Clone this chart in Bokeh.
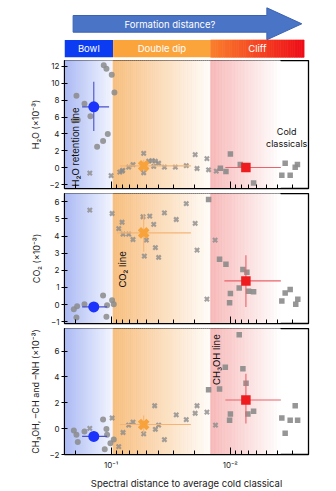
import numpy as np
from bokeh.plotting import figure
from bokeh.layouts import column
from bokeh.models import Range1d, FixedTicker, CustomJSTickFormatter
from bokeh.core.properties import value
from bokeh.embed import file_html
from bokeh.resources import INLINE

FONT = "Inter"

# ---------------- data ----------------
x_limits = [0.2462, 0.002204]
x_major = [0.1, 0.01]
x_minor = [0.2, 0.09, 0.08, 0.07, 0.06, 0.05, 0.04, 0.03, 0.02,
           0.009, 0.008, 0.007, 0.006, 0.005, 0.004, 0.003]
bowl_edge = 0.0963
cliff_edge = 0.0146
cliff_fade = 0.0038
group_names = ["Bowl", "Double dip", "Cliff"]

# H2O panel
h2o_bowl_x = [0.1153, 0.1095, 0.0988, 0.0938, 0.1954, 0.1674, 0.1491, 0.2057, 0.1905, 0.1067, 0.1168, 0.1311]
h2o_bowl_y = [12.1, 11.7, 11.0, 8.9, 8.5, 7.56, 6.1, 5.6, 5.66, 4.0, 3.18, 2.5]
h2o_dip_x = [0.1510, 0.1000, 0.0846, 0.0809, 0.0799, 0.0712, 0.0655, 0.0533, 0.0533, 0.0484, 0.0453,
             0.0425, 0.0399, 0.0439, 0.0357, 0.0289, 0.0234, 0.0197, 0.0190, 0.0157, 0.0152, 0.0131]
h2o_dip_y = [-0.62, -0.93, -0.5, -0.39, -0.31, 0.08, 0.39, 1.7, -0.58, 0.78, 0.85,
             0.78, 0.54, 0.16, 0.08, 0.08, 0.27, 1.55, -0.08, 1.09, -0.23, -0.39]
h2o_cliff_x = [0.0121, 0.01087, 0.00997, 0.00824, 0.00637, 0.00346, 0.00369, 0.00314, 0.00285, 0.00273]
h2o_cliff_y = [-0.04, -0.43, 1.63, 0.39, -1.78, 0.54, -0.89, -0.89, 0.08, 0.39]
h2o_mean_x = [0.1398, 0.0533, 0.00739]
h2o_mean_y = [7.2, 0.23, 0.04]
h2o_xerr_lo = [0.1751, 0.0846, 0.0110]
h2o_xerr_hi = [0.1040, 0.0214, 0.00376]
h2o_yerr_lo = [4.34, -0.45, -0.5]
h2o_yerr_hi = [10.15, 0.95, 0.54]

# CO2 panel
co2_bowl_x = [0.2057, 0.1929, 0.1954, 0.1674, 0.1168, 0.1081, 0.1095, 0.0981, 0.0950]
co2_bowl_y = [-0.27, -0.1, -0.76, 0.02, 0.53, -0.04, -0.72, 0.25, 0.02]
co2_dip_x = [0.1510, 0.0981, 0.0809, 0.0863, 0.0794, 0.0712, 0.0655, 0.0540, 0.0474, 0.0439, 0.0357,
             0.0284, 0.0234, 0.0197, 0.0506, 0.0425, 0.0526, 0.0399, 0.0190, 0.0157, 0.0134]
co2_dip_y = [5.52, 5.32, 4.81, 4.44, 4.11, 4.11, 3.8, 5.13, 5.17, 4.68, 5.36,
             4.97, 5.9, 4.74, 3.76, 3.33, 2.83, 2.75, 3.18, 0.31, 3.76]
co2_cliff_x = [0.0152, 0.0123, 0.01087, 0.00783, 0.00725, 0.00841, 0.00997, 0.01013, 0.00702, 0.00637,
               0.00369, 0.00346, 0.00314, 0.00282, 0.00271]
co2_cliff_y = [6.14, 2.65, 2.36, 2.05, 1.89, 0.97, 0.64, 0.1, 0.78, 0.74,
               0.21, 0.68, 0.88, 0.02, 0.31]
co2_mean_x = [0.1398, 0.0533, 0.00739]
co2_mean_y = [-0.14, 4.19, 1.38]
co2_xerr_lo = [0.1751, 0.0891, 0.0112]
co2_xerr_hi = [0.1081, 0.0214, 0.00376]
co2_yerr_lo = [-0.14, 3.08, -0.14]
co2_yerr_hi = [-0.14, 5.28, 2.88]

# CH3OH, -CH and -NH panel
ch_bowl_x = [0.2057, 0.1954, 0.1905, 0.1674, 0.1168, 0.1095, 0.1081, 0.1014, 0.1131, 0.0950]
ch_bowl_y = [-0.15, -0.47, -1.04, -0.22, 0.7, -0.02, -0.47, -1.14, -1.59, -0.85]
ch_dip_x = [0.1510, 0.0981, 0.0863, 0.0794, 0.0712, 0.0655, 0.0533, 0.0431, 0.0425, 0.0399, 0.0357,
            0.0284, 0.0234, 0.0197, 0.0190, 0.0157, 0.0133]
ch_dip_y = [0.02, 0.82, -1.39, -0.3, 0.27, 0.5, -0.4, 1.77, -0.05, 0.27, -0.85,
            1.07, 0.7, 1.19, 1.77, 1.27, 0.27]
ch_cliff_x = [0.0152, 0.0123, 0.0110, 0.00841, 0.00783, 0.00737, 0.00997, 0.01013, 0.00711, 0.00637,
              0.00369, 0.00346, 0.00314, 0.00285, 0.00272]
ch_cliff_y = [3.01, 3.06, 4.75, 7.26, 4.63, 3.51, 1.14, 0.65, 1.14, 1.34,
              0.82, -0.35, 0.65, 1.77, 0.65]
ch_mean_x = [0.1398, 0.0533, 0.00739]
ch_mean_y = [-0.6, 0.32, 2.21]
ch_xerr_lo = [0.1751, 0.0846, 0.0110]
ch_xerr_hi = [0.1081, 0.0214, 0.00376]
ch_yerr_lo = [-0.97, -0.35, 0.4]
ch_yerr_hi = [-0.22, 1.02, 4.25]

# annotations (data coordinates)
h2o_line_xy = (0.1991, -2.2)
co2_line_xy = (0.0804, 0.99)
ch3oh_line_xy = (0.01294, 3.38)
cold_xy = (0.00336, 3.57)

# ---------------- styling ----------------
GRAY = "#8b8b8b"
BLUE = "#1c33fb"
ORANGE = "#f7a23a"
RED = "#ee1c1f"


def mix(c0, c1, t):
    return "#%02x%02x%02x" % tuple(int(round(a + (b - a) * t)) for a, b in zip(c0, c1))


def gradient(p, x_from, x_to, c_from, c_to, y0, y1, n=48):
    edges = np.logspace(np.log10(x_from), np.log10(x_to), n + 1)
    cols = [mix(c_from, c_to, (i + 0.5) / n) for i in range(n)]
    p.quad(left=edges[:-1], right=edges[1:], bottom=y0, top=y1,
           fill_color=cols, line_color=cols, line_width=0.7)


minus_fmt = CustomJSTickFormatter(code="return tick < 0 ? '\\u2212' + Math.abs(tick) : String(tick);")
xpow_fmt = CustomJSTickFormatter(code="const e = Math.round(Math.log10(tick)); return e == -1 ? '10\\u207b\\u00b9' : '10\\u207b\\u00b2';")
blank_fmt = CustomJSTickFormatter(code="return '';")


def make_panel(height, bottom, yrange, yticks, ylabel, show_xlabels):
    p = figure(width=336, height=height, x_axis_type="log",
               x_range=Range1d(*x_limits), y_range=Range1d(*yrange),
               output_backend="svg", toolbar_location=None,
               min_border_left=64, min_border_right=28,
               min_border_top=0, min_border_bottom=bottom)
    p.grid.visible = False
    p.outline_line_color = "black"
    p.outline_line_width = 1.3
    p.background_fill_color = "white"
    p.border_fill_color = "white"

    y0, y1 = yrange
    gradient(p, x_limits[0], bowl_edge, (168, 184, 243), (244, 246, 255), y0, y1)
    gradient(p, bowl_edge, cliff_edge, (247, 190, 126), (255, 252, 249), y0, y1)
    gradient(p, cliff_edge, cliff_fade, (247, 184, 184), (255, 255, 255), y0, y1)

    ya = p.yaxis[0]
    ya.ticker = FixedTicker(ticks=yticks)
    ya.formatter = minus_fmt
    ya.major_tick_out = 3
    ya.major_tick_in = 3
    ya.minor_tick_out = 0
    ya.minor_tick_in = 0
    ya.major_label_standoff = 2
    ya.major_label_text_font = FONT
    ya.major_label_text_font_size = "8px"
    ya.major_label_text_color = "#222222"
    ya.axis_label = ylabel
    ya.axis_label_text_font = FONT
    ya.axis_label_text_font_size = "9px"
    ya.axis_label_text_font_style = "normal"
    ya.axis_label_text_color = "#222222"
    ya.axis_label_standoff = 6
    ya.axis_line_color = "black"

    xa = p.xaxis[0]
    xa.ticker = FixedTicker(ticks=x_major, minor_ticks=x_minor)
    xa.major_tick_out = 0
    xa.major_tick_in = 7
    xa.minor_tick_out = 0
    xa.minor_tick_in = 4
    xa.axis_line_color = "black"
    if show_xlabels:
        xa.formatter = xpow_fmt
        xa.major_label_text_font = FONT
        xa.major_label_text_font_size = "8px"
        xa.major_label_text_color = "#222222"
        xa.major_label_standoff = 5
        xa.axis_label = "Spectral distance to average cold classical"
        xa.axis_label_text_font = FONT
        xa.axis_label_text_font_size = "9.5px"
        xa.axis_label_text_font_style = "normal"
        xa.axis_label_text_color = "#222222"
        xa.axis_label_standoff = 5
    else:
        xa.formatter = blank_fmt
        xa.major_label_text_font_size = "2px"
        xa.major_label_standoff = 0
    return p


def add_points(p, bx, by, dx, dy, cx, cy, mx, my, xlo, xhi, ylo, yhi):
    p.scatter(bx, by, marker="circle", size=6, fill_color=GRAY, line_color=None, alpha=0.85)
    p.scatter(dx, dy, marker="x", size=6, line_color=GRAY, line_width=2.2, alpha=0.8)
    p.scatter(cx, cy, marker="square", size=5.5, fill_color=GRAY, line_color=None, alpha=0.9)
    err_cols = ["#4a50c8", "#f5b476", "#e9636a"]
    p.segment(x0=xlo, y0=my, x1=xhi, y1=my, line_color=err_cols, line_width=1.1)
    p.segment(x0=mx, y0=ylo, x1=mx, y1=yhi, line_color=err_cols, line_width=1.1)
    p.scatter([mx[0]], [my[0]], marker="circle", size=11, fill_color=BLUE, line_color=None)
    p.scatter([mx[1]], [my[1]], marker="x", size=12, line_color=ORANGE, line_width=4.5)
    p.scatter([mx[2]], [my[2]], marker="square", size=9.5, fill_color=RED, line_color=None)


def vtext(p, x, y, txt):
    p.text(x=[x], y=[y], text=[txt], angle=np.pi / 2, text_align="left",
           text_baseline="middle", text_font=value(FONT), text_font_size="9.5px",
           text_color="#111111")


# ---------------- header ----------------
hdr = figure(width=336, height=60, x_axis_type="log", x_range=Range1d(*x_limits),
             y_range=Range1d(60, 0), x_axis_location=None, y_axis_location=None,
             min_border_left=64, min_border_right=28, min_border_top=0, min_border_bottom=0,
             output_backend="svg", toolbar_location=None)
hdr.grid.visible = False
hdr.outline_line_color = None

arrow_x0, arrow_head, arrow_tip = 0.2084, 0.00493, 0.00251
hdr.patch([arrow_x0, arrow_head, arrow_head, arrow_tip, arrow_head, arrow_head, arrow_x0],
          [15, 15, 7.3, 23.3, 39.3, 31.7, 31.7],
          fill_color="#4a74c6", line_color="#3a62b2", line_width=1)
hdr.text(x=[np.sqrt(arrow_x0 * arrow_head)], y=[24], text=["Formation distance?"],
         text_align="center", text_baseline="middle", text_font=value(FONT),
         text_font_size="9.5px", text_color="white")

box_top, box_bot = 39.5, 56.8
cliff_end = 0.0024
hdr.quad(left=[x_limits[0]], right=[bowl_edge], bottom=[box_bot], top=[box_top],
         fill_color="#0b3cf2", line_color=None)
hdr.quad(left=[bowl_edge], right=[cliff_edge], bottom=[box_bot], top=[box_top],
         fill_color="#fba43c", line_color=None)
gradient(hdr, cliff_edge, cliff_end, (250, 128, 44), (239, 12, 24), box_bot, box_top, n=40)
box_lefts = [x_limits[0], bowl_edge, cliff_edge]
box_rights = [bowl_edge, cliff_edge, cliff_end]
hdr.text(x=[np.sqrt(a * b) for a, b in zip(box_lefts, box_rights)], y=[48.3] * 3,
         text=group_names, text_align="center", text_baseline="middle",
         text_font=value(FONT), text_font_size="9.5px", text_color="white")

# ---------------- panels ----------------
p1 = make_panel(133, 5, (-2.44, 12.67), [-2, 0, 2, 4, 6, 8, 10, 12], "H\u2082O (\u00d710\u207b\u00b3)", False)
add_points(p1, h2o_bowl_x, h2o_bowl_y, h2o_dip_x, h2o_dip_y, h2o_cliff_x, h2o_cliff_y,
           h2o_mean_x, h2o_mean_y, h2o_xerr_lo, h2o_xerr_hi, h2o_yerr_lo, h2o_yerr_hi)
vtext(p1, h2o_line_xy[0], h2o_line_xy[1], "H\u2082O retention line")
p1.text(x=[cold_xy[0]], y=[cold_xy[1]], text=["Cold\nclassicals"], text_align="center",
        text_baseline="middle", text_font=value(FONT), text_font_size="9px",
        text_color="#111111", text_line_height=1.15)

p2 = make_panel(135, 5, (-1.11, 6.49), [-1, 0, 1, 2, 3, 4, 5, 6], "CO\u2082 (\u00d710\u207b\u00b3)", False)
add_points(p2, co2_bowl_x, co2_bowl_y, co2_dip_x, co2_dip_y, co2_cliff_x, co2_cliff_y,
           co2_mean_x, co2_mean_y, co2_xerr_lo, co2_xerr_hi, co2_yerr_lo, co2_yerr_hi)
vtext(p2, co2_line_xy[0], co2_line_xy[1], "CO\u2082 line")

p3 = make_panel(163, 34, (-2.0, 7.74), [-2, 0, 2, 4, 6],
                "CH\u2083OH, \u2013CH and \u2013NH (\u00d710\u207b\u00b3)", True)
add_points(p3, ch_bowl_x, ch_bowl_y, ch_dip_x, ch_dip_y, ch_cliff_x, ch_cliff_y,
           ch_mean_x, ch_mean_y, ch_xerr_lo, ch_xerr_hi, ch_yerr_lo, ch_yerr_hi)
vtext(p3, ch3oh_line_xy[0], ch3oh_line_xy[1], "CH\u2083OH line")

layout = column(hdr, p1, p2, p3, spacing=0)
open("out.html", "w").write(file_html(layout, INLINE))
